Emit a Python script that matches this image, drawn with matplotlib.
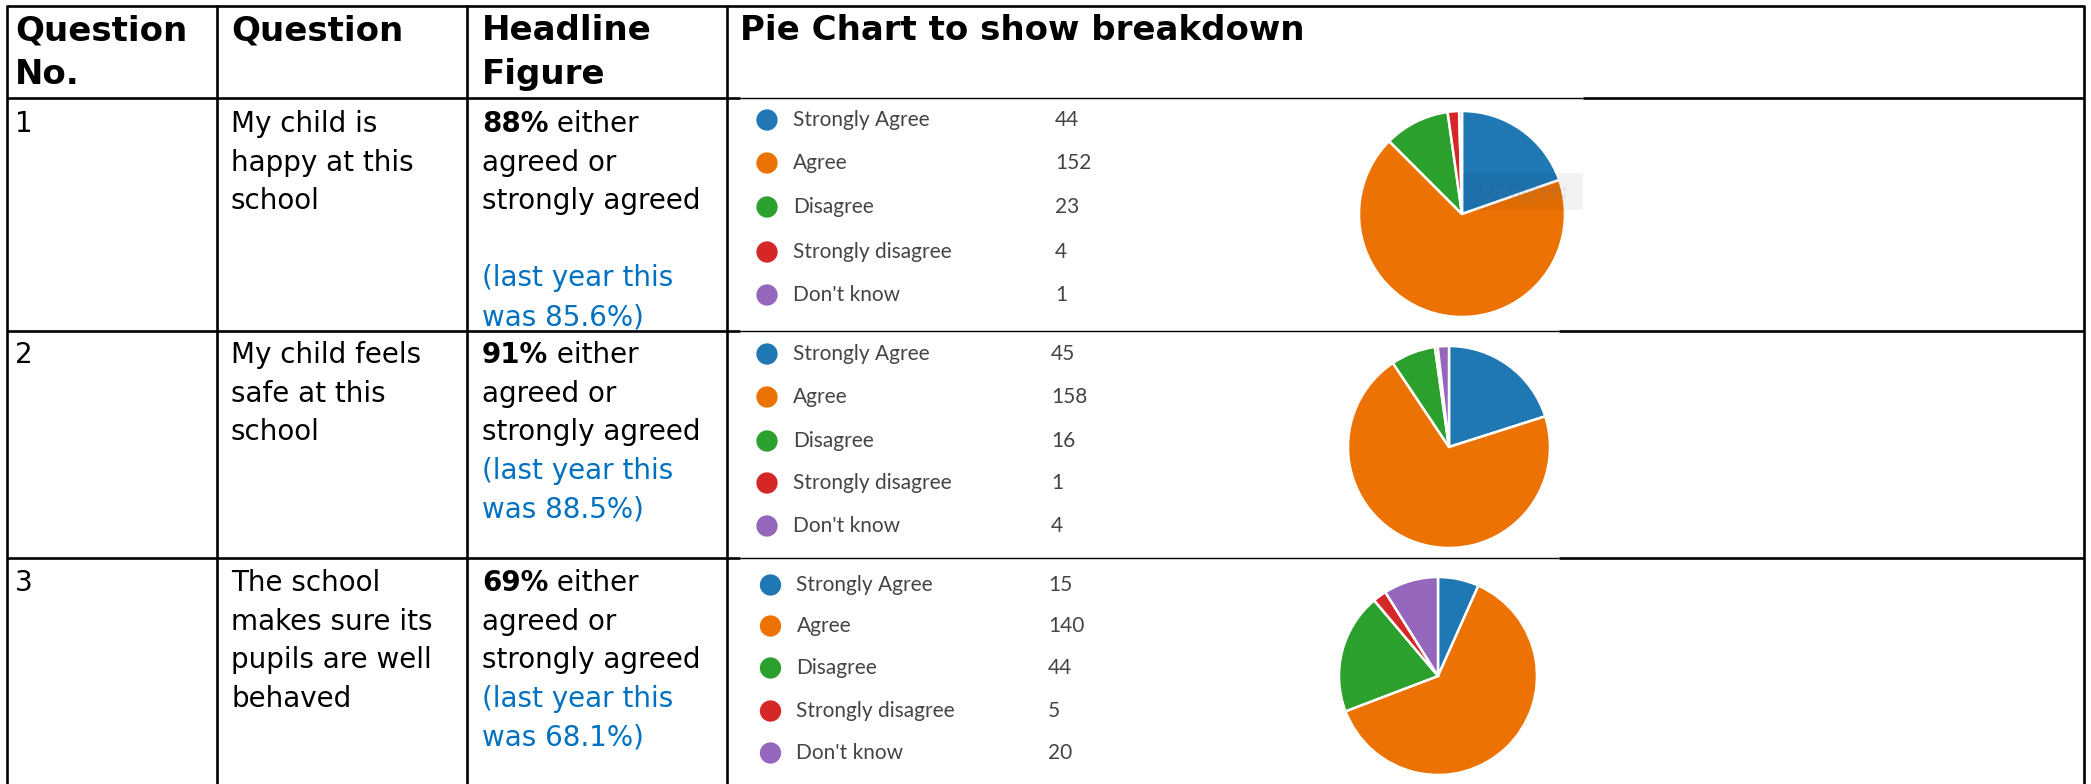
import matplotlib.pyplot as plt
from matplotlib.patches import Rectangle

# table content
header = ["Question\nNo.", "Question", "Headline\nFigure", "Pie Chart to show breakdown"]
question_no = ["1", "2", "3"]
questions = [
    ["My child is", "happy at this", "school"],
    ["My child feels", "safe at this", "school"],
    ["The school", "makes sure its", "pupils are well", "behaved"],
]
headline_pct = ["88%", "91%", "69%"]
last_year = ["85.6%", "88.5%", "68.1%"]

# pie breakdown
categories = ["Strongly Agree", "Agree", "Disagree", "Strongly disagree", "Don't know"]
q1_counts = [44, 152, 23, 4, 1]
q2_counts = [45, 158, 16, 1, 4]
q3_counts = [15, 140, 44, 5, 20]
counts = [q1_counts, q2_counts, q3_counts]
colors = ["#1f77b4", "#ec7204", "#2ca02c", "#d62728", "#9467bd"]

W, H = 2091, 784
fig = plt.figure(figsize=(W / 100, H / 100), dpi=100)
ax = fig.add_axes([0, 0, 1, 1])
ax.set_xlim(0, W)
ax.set_ylim(H, 0)
ax.axis('off')

# grid lines
thick = 1.9
thin = 1.0
col_x = [7, 217, 467, 727, 2084]
row_y = [98, 331, 558]
ax.hlines(6, col_x[0], col_x[-1], color='black', lw=thick)
img_right = [1583, 1559, 1559]
for y, xr in zip(row_y, img_right):
    ax.hlines(y, col_x[0], 740, color='black', lw=thick)
    ax.hlines(y, 740, xr, color='black', lw=thin)
    ax.hlines(y, xr, col_x[-1], color='black', lw=thick)
for x in col_x:
    ax.vlines(x, 5, H, color='black', lw=thick)

# header
hfont = dict(family='DejaVu Sans', weight='bold', fontsize=24.5, color='black', va='baseline')
text_x = [15, 231, 482, 740]
for x, h in zip(text_x, header):
    for i, line in enumerate(h.split("\n")):
        ax.text(x, 40 + i * 44, line, **hfont)

# body text
bfont = dict(family='DejaVu Sans', fontsize=20, color='black', va='baseline')
lh = 38.6
row_base = [132, 363, 591]
fig.canvas.draw()
renderer = fig.canvas.get_renderer()
for r in range(3):
    y0 = row_base[r]
    ax.text(text_x[0], y0, question_no[r], **bfont)
    for i, line in enumerate(questions[r]):
        ax.text(text_x[1], y0 + i * lh, line, **bfont)
    t = ax.text(text_x[2], y0, headline_pct[r], weight='bold', **bfont)
    wpx = t.get_window_extent(renderer).width
    ax.text(text_x[2] + wpx, y0, " either", **bfont)
    ax.text(text_x[2], y0 + lh, "agreed or", **bfont)
    ax.text(text_x[2], y0 + 2 * lh, "strongly agreed", **bfont)
    k = 4 if r == 0 else 3
    ax.text(text_x[2], y0 + k * lh, "(last year this", color='#0070c0',
            family='DejaVu Sans', fontsize=20, va='baseline')
    ax.text(text_x[2], y0 + (k + 1) * lh, "was %s)" % last_year[r], color='#0070c0',
            family='DejaVu Sans', fontsize=20, va='baseline')

# legends
leg_y = [[120, 163, 207, 252, 295],
         [354, 397, 441, 483, 526],
         [585, 626, 668, 711, 753]]
leg_dx = [0, 0, 3.5]
num_x = [1055, 1051, 1048]
lfont = dict(family='Lato', fontsize=15, color='#444444', va='center')
for r in range(3):
    for j, cat in enumerate(categories):
        y = leg_y[r][j]
        ax.scatter([767 + leg_dx[r]], [y], s=235, color=colors[j], edgecolors='none')
        ax.text(793 + leg_dx[r], y, cat, **lfont)
        ax.text(num_x[r], y, str(counts[r][j]), **lfont)

# pies
pie_c = [(1462, 214), (1449, 447), (1438, 676)]
pie_r = [103, 101, 99]
for r in range(3):
    cx, cy = pie_c[r]
    rad = pie_r[r] * 1.03
    pax = fig.add_axes([(cx - rad) / W, 1 - (cy + rad) / H, 2 * rad / W, 2 * rad / H])
    pax.pie(counts[r], colors=colors, startangle=90, counterclock=False,
            wedgeprops=dict(edgecolor='white', linewidth=1.8))
    pax.set_xlim(-1.03, 1.03)
    pax.set_ylim(-1.03, 1.03)
    pax.axis('off')

# faint tooltip left on the first screenshot
tip_ax = fig.add_axes([0, 0, 1, 1])
tip_ax.set_xlim(0, W)
tip_ax.set_ylim(H, 0)
tip_ax.axis('off')
tip = Rectangle((1462, 173), 121, 37, facecolor='black', alpha=0.05, edgecolor='none')
tip_ax.add_patch(tip)
tip_ax.add_patch(Rectangle((1464, 182), 13, 18, facecolor='#1f77b4', alpha=0.12, edgecolor='none'))
tip_ax.text(1481, 192, "Disagree:", family='Lato', fontsize=15, color='#5a7da0',
            alpha=0.18, va='center')

fig.savefig("out.png", dpi=100)
